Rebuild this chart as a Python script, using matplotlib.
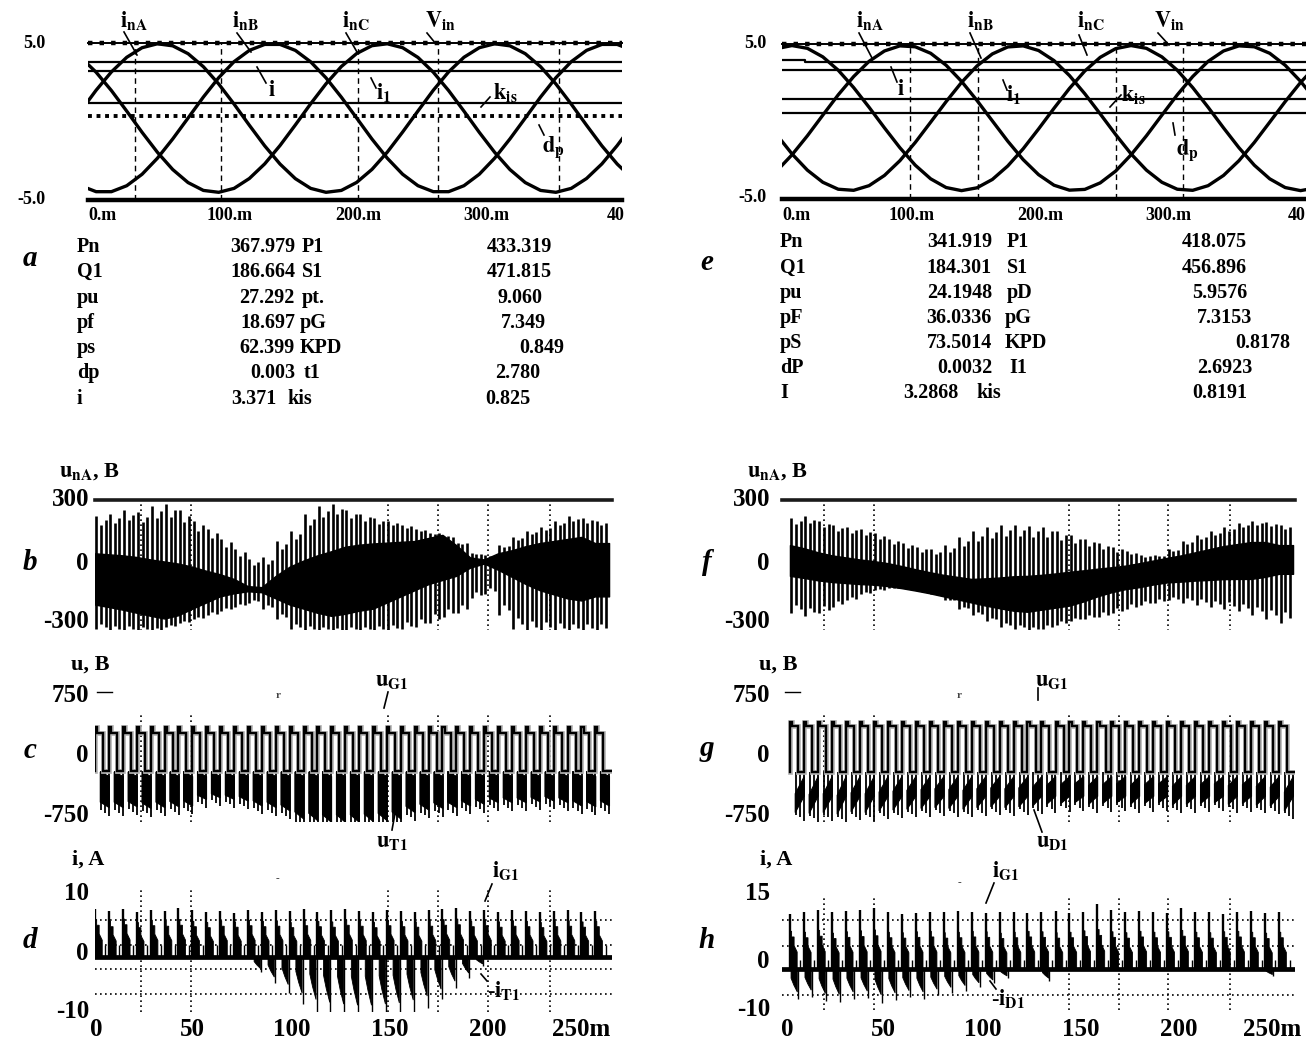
import numpy as np
import matplotlib.pyplot as plt

plt.rcParams['font.family'] = ['Liberation Serif', 'DejaVu Serif']
plt.rcParams['mathtext.fontset'] = 'stix'

W, H = 1306, 1046

# ---------------- values ----------------
# a / e : phase currents, one sample every 12.5 ms
sin_t = [-12.5, 0, 12.5, 25, 37.5, 50, 62.5, 75, 87.5, 100, 112.5, 125, 137.5,
         150, 162.5, 175, 187.5, 200, 212.5, 225, 237.5, 250, 262.5, 275, 287.5,
         300, 312.5, 325, 337.5, 350, 362.5, 375, 387.5, 400, 412.5, 425, 437.5]

a_inA = [0.67, 1.99, 3.16, 4.09, 4.70, 4.95, 4.82, 4.32, 3.49, 2.39, 1.11, -0.24, -1.55,
         -2.71, -3.64, -4.26, -4.51, -4.39, -3.88, -3.05, -1.95, -0.67, 0.67, 1.99, 3.16,
         4.09, 4.70, 4.95, 4.82, 4.32, 3.49, 2.39, 1.11, -0.24, -1.55, -2.71, -3.64]
a_inB = [-4.09, -4.47, -4.47, -4.09, -3.36, -2.34, -1.11, 0.22, 1.56, 2.79, 3.81, 4.53, 4.91,
         4.91, 4.53, 3.80, 2.78, 1.55, 0.22, -1.12, -2.34, -3.36, -4.09, -4.47, -4.47,
         -4.09, -3.36, -2.34, -1.11, 0.22, 1.56, 2.79, 3.81, 4.53, 4.91, 4.91, 4.53]
a_inC = [4.08, 3.14, 1.97, 0.66, -0.69, -1.96, -3.06, -3.89, -4.39, -4.51, -4.26, -3.63, -2.70,
         -1.53, -0.22, 1.13, 2.40, 3.50, 4.33, 4.83, 4.95, 4.70, 4.08, 3.14, 1.97,
         0.66, -0.69, -1.96, -3.06, -3.89, -4.39, -4.51, -4.26, -3.63, -2.70, -1.53, -0.22]

e_inA = [-3.20, -2.15, -0.92, 0.41, 1.72, 2.90, 3.88, 4.55, 4.88, 4.82, 4.40, 3.63, 2.59,
         1.36, 0.04, -1.27, -2.46, -3.43, -4.11, -4.43, -4.38, -3.96, -3.20, -2.15, -0.92,
         0.41, 1.72, 2.90, 3.88, 4.55, 4.88, 4.82, 4.40, 3.63, 2.59, 1.36, 0.04]
e_inB = [-0.84, -2.09, -3.14, -3.92, -4.37, -4.44, -4.14, -3.48, -2.53, -1.35, -0.04, 1.28, 2.52,
         3.58, 4.36, 4.81, 4.88, 4.58, 3.93, 2.97, 1.79, 0.49, -0.84, -2.09, -3.14,
         -3.92, -4.37, -4.44, -4.14, -3.48, -2.53, -1.35, -0.04, 1.28, 2.52, 3.58, 4.36]
e_inC = [4.70, 4.90, 4.72, 4.17, 3.31, 2.19, 0.92, -0.41, -1.69, -2.82, -3.70, -4.26, -4.46,
         -4.28, -3.74, -2.87, -1.76, -0.48, 0.85, 2.13, 3.26, 4.14, 4.70, 4.90, 4.72,
         4.17, 3.31, 2.19, 0.92, -0.41, -1.69, -2.82, -3.70, -4.26, -4.46, -4.28, -3.74]

# constant traces on the screens
a_levels = [3.80, 3.23, 1.20]
a_dp = 0.32
e_levels = [3.30, 1.44, 0.58]
e_i_t = [-10, 10.5, 10.5, 440]
e_i_v = [3.99, 3.99, 3.81, 3.81]
a_vgrid = [31.4, 101.7, 213.2, 278.5, 377.7]
e_vgrid = [95.7, 150.8, 262.7, 317.0]

# tables under the screens
a_names1 = ['Pn', 'Q1', 'pu', 'pf', 'ps', 'dp', 'i']
a_vals1 = ['367.979', '186.664', '27.292', '18.697', '62.399', '0.003', '3.371']
a_names2 = ['P1', 'S1', 'pt.', 'pG', 'KPD', 't1', 'kis']
a_vals2 = ['433.319', '471.815', '9.060', '7.349', '0.849', '2.780', '0.825']
e_names1 = ['Pn', 'Q1', 'pu', 'pF', 'pS', 'dP', 'I']
e_vals1 = ['341.919', '184.301', '24.1948', '36.0336', '73.5014', '0.0032', '3.2868']
e_names2 = ['P1', 'S1', 'pD', 'pG', 'KPD', 'I1', 'kis']
e_vals2 = ['418.075', '456.896', '5.9576', '7.3153', '0.8178', '2.6923', '0.8191']

# switching instants, ms
left_t = [-0.5, 6.6, 13.7, 20.8, 27.9, 35.0, 42.0, 49.1, 56.2, 63.3, 70.4, 77.5, 84.6,
          91.7, 98.8, 105.9, 112.9, 120.0, 127.1, 134.2, 141.3, 148.4, 155.5, 162.6,
          169.7, 176.8, 183.8, 190.9, 198.0, 205.1, 212.2, 219.3, 226.4, 233.5, 240.6,
          247.7, 254.7]
right_t = [1.5, 8.6, 15.8, 22.9, 30.0, 37.2, 44.3, 51.4, 58.5, 65.7, 72.8, 79.9, 87.1,
           94.2, 101.3, 108.5, 115.6, 122.7, 129.8, 137.0, 144.1, 151.2, 158.4, 165.5,
           172.6, 179.8, 186.9, 194.0, 201.1, 208.3, 215.4, 222.5, 229.7, 236.8, 243.9,
           251.1]

# b: u_nA band edges and spike tips per switching period, V
b_hi = [40, 35, 30, 22, 10, 0, -10, -25, -45, -62, -85, -120, -125, -70, -25, 5, 30, 50,
        72, 82, 88, 92, 96, 100, 115, 130, 80, 20, 10, 40, 55, 75, 90, 100, 110, 120, 90]
b_lo = [-210, -222, -235, -250, -265, -278, -262, -230, -200, -170, -155, -145, -150, -180,
        -210, -230, -250, -265, -255, -240, -230, -200, -170, -140, -110, -90, -70, -30,
        -10, -40, -75, -110, -140, -160, -180, -190, -170]
b_top = [220, 230, 250, 240, 270, 280, 250, 200, 160, 110, 60, 10, 20, 100, 150, 230, 270,
         280, 250, 230, 210, 200, 180, 160, 140, 120, 90, 40, 30, 80, 120, 150, 170, 200,
         220, 210, 200]
b_bot = [-330, -340, -340, -340, -340, -320, -300, -280, -260, -240, -220, -200, -230, -280,
         -330, -340, -340, -340, -340, -340, -340, -340, -330, -320, -300, -270, -250, -180,
         -160, -260, -330, -340, -340, -340, -340, -340, -340]
# f
f_hi = [80, 65, 45, 30, 20, 10, 2, -8, -22, -38, -52, -65, -75, -85, -82, -78, -72, -70,
        -65, -58, -50, -43, -35, -28, -20, -8, 5, 18, 30, 45, 60, 75, 85, 95, 95, 80]
f_lo = [-70, -80, -92, -100, -105, -110, -113, -120, -130, -142, -155, -170, -185, -200,
        -215, -228, -240, -245, -235, -225, -215, -195, -170, -150, -135, -125, -112, -102,
        -98, -93, -90, -86, -85, -85, -75, -60]
f_top = [210, 220, 200, 180, 170, 160, 140, 110, 90, 70, 60, 80, 120, 150, 170, 180, 180,
         175, 170, 150, 130, 110, 90, 70, 50, 30, 30, 60, 100, 130, 150, 170, 190, 200, 195,
         180]
f_bot = [-250, -265, -250, -220, -190, -160, -140, -130, -130, -140, -160, -190, -230, -260,
         -290, -320, -330, -340, -330, -310, -290, -280, -270, -250, -230, -210, -200, -190,
         -200, -210, -220, -230, -240, -260, -280, -300]

# c / g: lowest point of u_T1 / u_D1 in each period, V
c_bot = [-660, -660, -650, -670, -660, -650, -640, -560, -540, -560, -580, -640, -660, -700,
         -800, -820, -840, -840, -840, -830, -820, -800, -720, -690, -670, -660, -640, -620,
         -600, -600, -600, -590, -580, -600, -640, -650, -640]
g_bot = [-720, -730, -720, -740, -710, -720, -700, -690, -680, -670, -660, -670, -680, -660,
         -650, -660, -650, -640, -620, -610, -600, -620, -610, -600, -620, -610, -600, -630,
         -620, -610, -600, -620, -610, -630, -640, -700]
c_gate = [320, 250, -210]     # high, stepped high, low
g_gate = [380, 330, -230]

# d / h: current pulses, A
d_peak = [8.3, 8.0, 8.4, 7.9, 8.2, 8.0, 8.6, 8.1, 7.8, 8.0, 7.7, 8.1, 7.9, 8.2, 8.0, 8.3, 7.9,
          8.1, 8.4, 8.0, 7.8, 8.2, 8.0, 7.9, 8.1, 8.3, 8.6, 8.0, 8.2, 7.9, 8.1, 8.0, 7.8, 8.0,
          8.1, 7.9, 8.0]
d_body = [6.5, 6.2, 6.6, 6.0, 6.4, 6.3, 6.5, 6.2, 6.0, 6.3, 6.1, 6.4, 6.2, 6.3, 6.0, 6.4, 6.2,
          6.1, 6.5, 6.3, 6.0, 6.4, 6.2, 6.1, 6.3, 6.5, 6.6, 6.2, 6.4, 6.1, 6.3, 6.2, 6.0, 6.2,
          6.3, 6.1, 6.2]
d_neg = [0, 0, 0, 0, 0, 0, 0, 0, 0, 0, 0, -2.0, -3.5, -4.8, -6.3, -7.4, -7.9, -8.2, -8.4, -8.4,
         -8.2, -8.0, -7.5, -6.8, -5.6, -4.2, -2.8, -1.2, 0, 0, 0, 0, 0, 0, 0, 0, 0]
h_peak = [12.0, 12.5, 12.8, 12.3, 12.6, 12.9, 13.3, 12.4, 12.0, 12.2, 12.5, 12.3, 12.6, 12.4,
          12.2, 12.5, 12.3, 12.1, 12.4, 12.6, 12.2, 12.5, 14.1, 12.8, 12.3, 12.6, 12.4, 12.2,
          13.2, 12.5, 12.3, 12.0, 12.4, 12.6, 12.2, 12.4]
h_body = [8.2, 8.0, 8.4, 7.8, 8.1, 8.3, 8.5, 8.0, 7.9, 8.1, 8.2, 7.9, 8.0, 8.2, 8.1, 7.8, 8.0,
          8.2, 8.1, 7.9, 8.0, 8.3, 8.6, 8.1, 7.9, 8.2, 8.0, 8.1, 8.4, 8.0, 7.9, 8.1, 8.2, 8.0,
          7.8, 8.0]
h_neg = [-5.0, -4.6, -5.3, -5.5, -5.0, -4.8, -5.6, -5.2, -4.7, -5.0, -4.4, -4.0, -3.6, -3.0,
         -2.4, -1.5, 0, 0, -2.0, 0, 0, 0, 0, 0, 0, 0, 0, 0, 0, 0, 0, 0, 0, 0, -1.2, 0]

left_grid = [23.0, 48.5, 149.0, 174.5, 200.0, 231.6]
right_grid = [18.9, 44.4, 143.9, 169.4, 194.4, 226.0]
d_hgrid = [6.4, 2.1, -2.1, -6.4]
h_hgrid = [10.65, 5.0, -5.65]

P = 7.1   # switching period, used only for the pulse shape

fig = plt.figure(figsize=(W / 100, H / 100), dpi=100)


def px_ax(x0, y0, x1, y1, xlim, ylim):
    ax = fig.add_axes([x0 / W, 1 - y1 / H, (x1 - x0) / W, (y1 - y0) / H])
    ax.set_xlim(*xlim)
    ax.set_ylim(*ylim)
    ax.set_axis_off()
    return ax


def ftext(x, y, s, size=14, ha='center', va='center', **kw):
    kw.setdefault('fontweight', 'bold')
    return fig.text(x / W, 1 - y / H, s, fontsize=size, ha=ha, va=va, **kw)


def pointer(x0, y0, x1, y1):
    fig.add_artist(plt.Line2D([x0 / W, x1 / W], [1 - y0 / H, 1 - y1 / H], color='k', lw=1.2))


# ---------------- a / e : phase current screens ----------------
def phase_screen(box, xlim, ia, ib, ic, vgrid):
    ax = px_ax(*box, xlim, (-5, 5))
    ax.vlines(vgrid, -5, 5, colors='k', lw=1.0, linestyles=(0, (4, 3)))
    ax.plot(xlim, [5, 5], color='k', lw=1.4, clip_on=False)
    ax.plot(xlim, [5, 5], color='k', lw=3.2, ls=(0, (1, 1.6)), clip_on=False)
    ax.plot(xlim, [-5, -5], color='k', lw=3.2, clip_on=False)
    for s in (ia, ib, ic):
        ax.plot(sin_t, s, color='k', lw=2.4)
    return ax


ax_a = phase_screen((88, 43, 622, 200), (-6.6, 428.9), a_inA, a_inB, a_inC, a_vgrid)
for v in a_levels:
    ax_a.axhline(v, color='k', lw=1.6)
ax_a.axhline(a_dp, color='k', lw=2.8, ls=(0, (1, 1.2)))

ax_e = phase_screen((782, 44, 1306, 199), (-8.1, 416.9), e_inA, e_inB, e_inC, e_vgrid)
for v in e_levels:
    ax_e.axhline(v, color='k', lw=1.6)
ax_e.plot(e_i_t, e_i_v, color='k', lw=1.6)

# screen tick labels
for x, y, s in [(45, 43, '5.0'), (45, 200, '-5.0'), (766, 44, '5.0'), (766, 197, '-5.0')]:
    ftext(x, y, s, size=13, ha='right')
for x0, ticks, x40 in [(88, [230, 358, 486], 607), (782, [912, 1040, 1168], 1288)]:
    ftext(x0, 216, '0.m', size=13, ha='left')
    for x, s in zip(ticks, ['100.m', '200.m', '300.m']):
        ftext(x, 216, s, size=13)
    ftext(x40, 216, '40', size=13, ha='left')

# trace labels
labels_a = [(134, 20, r'$\mathbf{i}_{\mathbf{nA}}$', (124, 32, 137, 55)),
            (245, 20, r'$\mathbf{i}_{\mathbf{nB}}$', (237, 33, 251, 52)),
            (356, 20, r'$\mathbf{i}_{\mathbf{nC}}$', (346, 33, 357, 52)),
            (441, 20, r'$\mathbf{V}_{\mathbf{in}}$', (427, 33, 436, 44)),
            (272, 91, r'$\mathbf{i}$', (257, 67, 266, 83)),
            (384, 93, r'$\mathbf{i}_{\mathbf{1}}$', (371, 78, 376, 88)),
            (505, 93, r'$\mathbf{k}_{\mathbf{is}}$', (481, 107, 490, 97)),
            (553, 147, r'$\mathbf{d}_{\mathbf{p}}$', (539, 125, 544, 135)),
            (870, 20, r'$\mathbf{i}_{\mathbf{nA}}$', (859, 33, 872, 58)),
            (980, 20, r'$\mathbf{i}_{\mathbf{nB}}$', (970, 33, 981, 58)),
            (1091, 20, r'$\mathbf{i}_{\mathbf{nC}}$', (1079, 35, 1087, 55)),
            (1170, 20, r'$\mathbf{V}_{\mathbf{in}}$', (1158, 33, 1169, 45)),
            (901, 90, r'$\mathbf{i}$', (891, 67, 897, 82)),
            (1014, 95, r'$\mathbf{i}_{\mathbf{1}}$', (1003, 80, 1007, 90)),
            (1133, 95, r'$\mathbf{k}_{\mathbf{is}}$', (1110, 107, 1121, 95)),
            (1187, 150, r'$\mathbf{d}_{\mathbf{p}}$', (1173, 123, 1175, 135))]
for x, y, s, (x0, y0, x1, y1) in labels_a:
    ftext(x, y, s, size=16)
    pointer(x0, y0, x1, y1)

# ---------------- tables ----------------
rows_a = [247, 272, 298, 323, 348, 373, 399]
rows_e = [242, 268, 293, 318, 343, 368, 393]
v1_a = [295, 295, 295, 295, 295, 295, 276]
n2_a = [302, 302, 302, 300, 300, 304, 287]
v2_a = [552, 552, 542, 546, 564, 540, 530]
v1_e = [992, 992, 992, 992, 992, 992, 958]
n2_e = [1007, 1007, 1007, 1005, 1005, 1009, 976]
v2_e = [1247, 1247, 1247, 1252, 1290, 1252, 1247]
for i in range(7):
    ftext(77, rows_a[i], a_names1[i], size=14.5, ha='left')
    ftext(v1_a[i], rows_a[i], a_vals1[i], size=14.5, ha='right')
    ftext(n2_a[i], rows_a[i], a_names2[i], size=14.5, ha='left')
    ftext(v2_a[i], rows_a[i], a_vals2[i], size=14.5, ha='right')
    ftext(780, rows_e[i], e_names1[i], size=14.5, ha='left')
    ftext(v1_e[i], rows_e[i], e_vals1[i], size=14.5, ha='right')
    ftext(n2_e[i], rows_e[i], e_names2[i], size=14.5, ha='left')
    ftext(v2_e[i], rows_e[i], e_vals2[i], size=14.5, ha='right')


# ---------------- b / f : phase voltage ----------------
def voltage_band(ax, t, lo, hi, top, bot, grid):
    ax.vlines(grid, -340, 300, colors='k', lw=1.2, linestyles=(0, (1, 2)), zorder=0)
    ax.plot(ax.get_xlim(), [300, 300], color='#1a1a1a', lw=2.6, clip_on=False)
    xs, y0, y1 = [], [], []
    for tk, l, h, b0, b1 in zip(t, lo, hi, bot, top):
        for f, s in ((0.1, 1.0), (0.43, 0.78), (0.76, 0.9)):
            xs.append(tk + f * P)
            y0.append(l + s * (b0 - l))
            y1.append(h + s * (b1 - h))
    ax.vlines(xs, y0, y1, colors='k', lw=1.9)
    tt = list(t) + [t[-1] + P]
    ax.fill_between(tt, list(lo) + [lo[-1]], list(hi) + [hi[-1]], color='k', lw=1.0)


ax_b = px_ax(95, 500, 612, 630, (-0.5, 263.3), (-334, 300))
voltage_band(ax_b, left_t, b_lo, b_hi, b_top, b_bot, left_grid)
ax_f = px_ax(782, 500, 1295, 630, (-2.55, 259.2), (-334, 300))
voltage_band(ax_f, right_t, f_lo, f_hi, f_top, f_bot, right_grid)


# ---------------- c / g : switch voltages ----------------
def switch_voltage(ax, t, bot, gate, rising, grid):
    hi1, hi2, lo = gate
    ax.vlines(grid, -840, 500, colors='k', lw=1.2, linestyles=(0, (1, 2)), zorder=0)
    for tk, b in zip(t, bot):
        a0 = tk + 0.38 * P
        a1 = tk + 1.03 * P
        if rising:
            poly_y = [b + 230, lo - 50, lo - 290, b]
        else:
            poly_y = [lo - 15, lo - 70, b, 0.85 * b + 0.15 * lo]
        ax.fill([a0, a1, a1, a0], poly_y, color='k', lw=0.8)
        ax.vlines([a0 + 0.05 * P, a0 + 0.35 * P, a1 - 0.02 * P], lo,
                  [b - 30, b - 60, b - 100], colors='k', lw=1.3)
    xs, ys = [], []
    for tk in t:
        fall = tk + 0.58 * P
        xs += [tk, tk, tk + 0.15 * P, tk + 0.15 * P, fall, fall]
        ys += [lo, hi1, hi1, hi2, hi2, lo]
    xs.append(t[-1] + 1.5 * P)
    ys.append(lo)
    ax.plot(xs, ys, color='#b5b5b5', lw=3.4, solid_joinstyle='miter')
    ax.plot(xs, ys, color='k', lw=1.7, solid_joinstyle='miter')


ax_c = px_ax(95, 692, 612, 822, (-0.5, 263.3), (-835, 750))
switch_voltage(ax_c, left_t, c_bot, c_gate, False, left_grid)
ax_c.plot([0.5, 8.2], [750, 750], color='k', lw=1, clip_on=False)
ax_g = px_ax(782, 692, 1295, 822, (-2.55, 259.2), (-835, 750))
switch_voltage(ax_g, right_t, g_bot, g_gate, True, right_grid)
ax_g.plot([-1.0, 6.6], [750, 750], color='k', lw=1, clip_on=False)


# ---------------- d / h : switch currents ----------------
def switch_current(ax, t, peak, body, neg, grid, hgrid, ymin, ymax, neg_at):
    ax.vlines(grid, ymin, ymax, colors='k', lw=1.2, linestyles=(0, (1, 2)), zorder=0)
    ax.hlines(hgrid, *ax.get_xlim(), colors='k', lw=1.2, linestyles=(0, (1, 2)), zorder=0)
    ax.axhline(0, color='k', lw=3.4)
    for tk, pk, bd, ng in zip(t, peak, body, neg):
        if pk > 0:
            ax.vlines(tk, 0, pk, colors='k', lw=1.7)
            ax.fill([tk, tk, tk + 0.12 * P, tk + 0.12 * P, tk + 0.3 * P, tk + 0.3 * P,
                     tk + 0.52 * P, tk + 0.52 * P],
                    [0, bd, bd, 0.85 * bd, 0.85 * bd, 0.62 * bd, 0.45 * bd, 0],
                    color='k', lw=0.6)
            ax.vlines(tk + 0.75 * P, 0, 2.0, colors='k', lw=1.0)
        if ng < 0:
            a0 = tk + neg_at * P
            a1 = a0 + 0.45 * P
            ax.fill([a0, a0, a0 + 0.2 * P, a1, a1], [0, 0.4 * ng, 0.7 * ng, ng, 0],
                    color='k', lw=0.6)
            ax.vlines(a1 + 0.05 * P, 1.3 * ng, 0, colors='k', lw=1.0)


ax_d = px_ax(95, 880, 612, 1012, (-0.5, 263.3), (-9.57, 13.39))
switch_current(ax_d, left_t, d_peak, d_body, d_neg, left_grid, d_hgrid, -9.6, 12, 0.45)
ax_h = px_ax(782, 880, 1295, 1010, (-2.55, 259.2), (-8.91, 19.35))
switch_current(ax_h, right_t, h_peak, h_body, h_neg, right_grid, h_hgrid, -8.9, 16, 0.08)

# ---------------- axis texts ----------------
for x, y, s in [(30, 258, 'a'), (30, 563, 'b'), (30, 750, 'c'), (30, 940, 'd'),
                (707, 262, 'e'), (707, 563, 'f'), (707, 748, 'g'), (707, 940, 'h')]:
    ftext(x, y, s, size=21, fontstyle='italic')

for xr in (89, 770):
    ftext(xr, 500, '300', size=18, ha='right')
    ftext(xr, 563, '0', size=18, ha='right')
    ftext(xr, 621, '-300', size=18, ha='right')
    ftext(xr, 695, '750', size=18, ha='right')
    ftext(xr, 756, '0', size=18, ha='right')
    ftext(xr, 815, '-750', size=18, ha='right')
ftext(89, 894, '10', size=18, ha='right')
ftext(89, 954, '0', size=18, ha='right')
ftext(89, 1011, '-10', size=18, ha='right')
ftext(770, 893, '15', size=18, ha='right')
ftext(770, 961, '0', size=18, ha='right')
ftext(770, 1009, '-10', size=18, ha='right')

for x0 in (96, 787):
    for dx, s in zip([0, 96, 196, 294, 392], ['0', '50', '100', '150', '200']):
        ftext(x0 + dx, 1030, s, size=18)
    ftext(x0 + 456, 1030, '250m', size=18, ha='left')

for x in (90, 778):
    ftext(x, 472, r'$\mathbf{u}_{\mathbf{nA}}$, B', size=16)
    ftext(x, 665, 'u, B', size=16)
    ftext(x - 2, 860, 'i, A', size=16)

ftext(392, 681, r'$\mathbf{u}_{\mathbf{G1}}$', size=16)
pointer(388, 692, 384, 708)
ftext(392, 842, r'$\mathbf{u}_{\mathbf{T1}}$', size=16)
pointer(396, 808, 392, 830)
ftext(1052, 681, r'$\mathbf{u}_{\mathbf{G1}}$', size=16)
pointer(1038, 688, 1038, 700)
ftext(1052, 842, r'$\mathbf{u}_{\mathbf{D1}}$', size=16)
pointer(1034, 810, 1042, 832)
ftext(506, 870, r'$\mathbf{i}_{\mathbf{G1}}$', size=16)
pointer(492, 884, 485, 901)
ftext(504, 991, r'-$\mathbf{i}_{\mathbf{T1}}$', size=16)
pointer(481, 974, 487, 981)
ftext(1006, 871, r'$\mathbf{i}_{\mathbf{G1}}$', size=16)
pointer(994, 883, 986, 903)
ftext(1008, 998, r'-$\mathbf{i}_{\mathbf{D1}}$', size=16)
pointer(990, 981, 996, 989)

# small specks visible on the scans
for x, y, s in [(278, 695, 'r'), (959, 695, 'r'), (277, 879, '-'), (959, 883, '-')]:
    ftext(x, y, s, size=8, color='#444444')

fig.savefig('out.png', dpi=100)
